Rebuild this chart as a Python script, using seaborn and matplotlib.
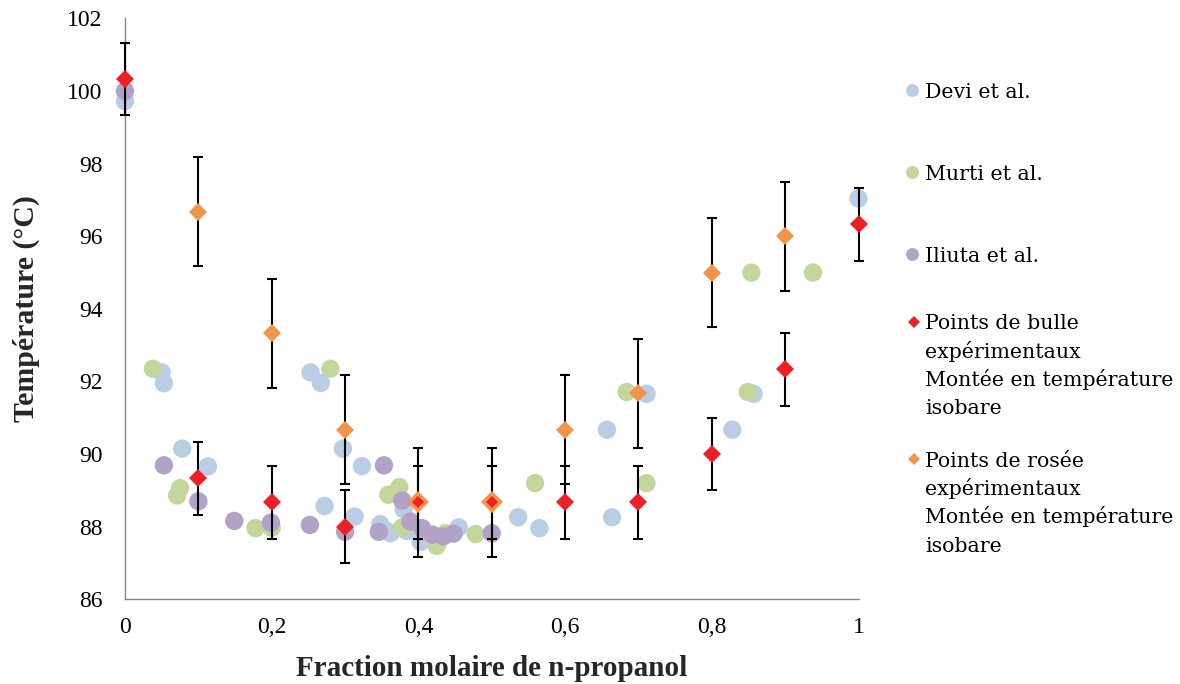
import matplotlib
matplotlib.use("Agg")
import matplotlib.pyplot as plt
from matplotlib.lines import Line2D
import seaborn as sns
import pandas as pd

# ---------------- data ----------------
devi_x = [0.0, 0.05, 0.053, 0.078, 0.113, 0.253, 0.267, 0.272, 0.297, 0.313, 0.323,
          0.348, 0.359, 0.362, 0.380, 0.384, 0.403, 0.455, 0.536, 0.565, 0.657, 0.664,
          0.711, 0.828, 0.857, 1.0]
devi_t = [99.72, 92.25, 91.95, 90.15, 89.66, 92.25, 91.96, 88.57, 90.15, 88.28, 89.67,
          88.07, 87.86, 87.82, 88.48, 87.88, 87.58, 87.98, 88.26, 87.96, 90.67, 88.26,
          91.66, 90.67, 91.66, 97.04]

murti_x = [0.038, 0.075, 0.071, 0.178, 0.200, 0.280, 0.359, 0.374, 0.378, 0.425,
           0.437, 0.478, 0.559, 0.684, 0.711, 0.849, 0.854, 0.938]
murti_t = [92.35, 89.06, 88.86, 87.96, 87.97, 92.35, 88.88, 89.09, 87.98, 87.47,
           87.82, 87.80, 89.20, 91.71, 89.20, 91.71, 95.00, 95.00]

iliuta_x = [0.0, 0.053, 0.100, 0.149, 0.199, 0.252, 0.300, 0.346, 0.353, 0.378,
            0.389, 0.405, 0.419, 0.434, 0.448, 0.500]
iliuta_t = [100.0, 89.69, 88.70, 88.16, 88.11, 88.05, 87.86, 87.86, 89.69, 88.72,
            88.14, 87.96, 87.78, 87.73, 87.81, 87.82]

bulle_x = [0.0, 0.1, 0.2, 0.3, 0.4, 0.5, 0.6, 0.7, 0.8, 0.9, 1.0]
bulle_t = [100.33, 89.33, 88.67, 88.0, 88.67, 88.67, 88.67, 88.67, 90.0, 92.33, 96.33]
bulle_err = [1.0] * len(bulle_x)

rosee_x = [0.1, 0.2, 0.3, 0.4, 0.5, 0.6, 0.7, 0.8, 0.9]
rosee_t = [96.67, 93.33, 90.67, 88.67, 88.67, 90.67, 91.67, 95.0, 96.0]
rosee_err = [1.5] * len(rosee_x)

series_names = ["Devi et al.", "Murti et al.", "Iliuta et al."]
label_bulle = "Points de bulle\nexpérimentaux\nMontée en température\nisobare"
label_rosee = "Points de rosée\nexpérimentaux\nMontée en température\nisobare"

x_ticks = [0, 0.2, 0.4, 0.6, 0.8, 1.0]
x_ticklabels = ["0", "0,2", "0,4", "0,6", "0,8", "1"]
y_ticks = [86, 88, 90, 92, 94, 96, 98, 100, 102]
y_ticklabels = ["86", "88", "90", "92", "94", "96", "98", "100", "102"]

colors = {"Devi et al.": "#B9CDE5", "Murti et al.": "#C3D69B", "Iliuta et al.": "#B3A2C7"}
c_bulle = "#EE1F25"
c_rosee = "#F29447"

# ---------------- figure ----------------
sns.set_theme(style="white")
plt.rcParams["font.family"] = ["Liberation Serif", "DejaVu Serif"]

W, H = 1180, 684
fig = plt.figure(figsize=(W / 100, H / 100), dpi=100)
ax = fig.add_axes([125 / W, 1 - 599.3 / H, 733.5 / W, 580.9 / H])

df = pd.concat([
    pd.DataFrame({"x": devi_x, "T": devi_t, "src": series_names[0]}),
    pd.DataFrame({"x": murti_x, "T": murti_t, "src": series_names[1]}),
    pd.DataFrame({"x": iliuta_x, "T": iliuta_t, "src": series_names[2]}),
], ignore_index=True)

sns.scatterplot(data=df, x="x", y="T", hue="src", palette=colors, s=175,
                linewidth=0, alpha=1, legend=False, ax=ax, zorder=2, clip_on=False)

# dew points (rosée) and bubble points (bulle) error bars
ax.errorbar(rosee_x, rosee_t, yerr=rosee_err, fmt="none", ecolor="black",
            elinewidth=1.5, capsize=3.8, capthick=1.5, zorder=3, clip_on=False)
ax.errorbar(bulle_x, bulle_t, yerr=bulle_err, fmt="none", ecolor="black",
            elinewidth=1.5, capsize=3.8, capthick=1.5, zorder=3, clip_on=False)

# larger dew markers where dew and bubble coincide
both = [(x, t) for x, t in zip(rosee_x, rosee_t)
        if any(abs(x - bx) < 1e-9 and abs(t - bt) < 1e-6 for bx, bt in zip(bulle_x, bulle_t))]
single = [(x, t) for x, t in zip(rosee_x, rosee_t) if (x, t) not in both]

ax.plot([p[0] for p in single], [p[1] for p in single], linestyle="none", marker="D",
        markersize=9, color=c_rosee, markeredgewidth=0, zorder=4, clip_on=False)
ax.plot([p[0] for p in both], [p[1] for p in both], linestyle="none", marker="D",
        markersize=11.5, color=c_rosee, markeredgewidth=0, zorder=4, clip_on=False)

b_single = [(x, t) for x, t in zip(bulle_x, bulle_t) if (x, t) not in both]
ax.plot([p[0] for p in b_single], [p[1] for p in b_single], linestyle="none", marker="D",
        markersize=9, color=c_bulle, markeredgewidth=0, zorder=5, clip_on=False)
ax.plot([p[0] for p in both], [p[1] for p in both], linestyle="none", marker="D",
        markersize=6.5, color=c_bulle, markeredgewidth=0, zorder=5, clip_on=False)

# axes styling
ax.set_xlim(0, 1)
ax.set_ylim(86, 102)
ax.set_xticks(x_ticks, x_ticklabels)
ax.set_yticks(y_ticks, y_ticklabels)
for s in ["top", "right"]:
    ax.spines[s].set_visible(False)
for s in ["left", "bottom"]:
    ax.spines[s].set_color("#868686")
    ax.spines[s].set_linewidth(1.0)
ax.tick_params(axis="both", direction="in", length=4, width=1.0, color="#868686",
               labelsize=17, labelcolor="black")
ax.tick_params(axis="x", pad=13)
ax.tick_params(axis="y", pad=16)
for lab in ax.get_xticklabels() + ax.get_yticklabels():
    lab.set_family(["Liberation Serif"])
ax.set_xlabel("Fraction molaire de n-propanol", fontsize=21, fontweight="bold",
              family=["Liberation Serif"])
ax.set_ylabel("Température (°C)", fontsize=21.5, fontweight="bold",
              family=["Liberation Serif"])
ax.xaxis.set_label_coords(0.5, -(668 - 599.3) / 580.9)
ax.yaxis.set_label_coords(-(125 - 40) / 733.5, 0.5)
ax.xaxis.label.set_va("center")

# ---------------- legend (manual) ----------------
def fx(px):
    return px / W

def fy(py):
    return 1 - py / H

line_step = 28.3  # pixels between legend text lines
# (marker, colour, size, marker x, marker y, label, baseline of first line)
leg_items = [
    ("o", colors["Devi et al."], 9.3, 911.7, 90, "Devi et al.", 98.5),
    ("o", colors["Murti et al."], 9.3, 911.7, 172.3, "Murti et al.", 180),
    ("o", colors["Iliuta et al."], 9.3, 911.7, 254, "Iliuta et al.", 261.7),
    ("D", c_bulle, 6.6, 914, 321.7, label_bulle, 329.3),
    ("D", c_rosee, 6.6, 914, 459, label_rosee, 466.7),
]
for m, c, ms, mx, my, lab, base in leg_items:
    fig.add_artist(Line2D([fx(mx)], [fy(my)], marker=m, markersize=ms, color=c,
                          markeredgewidth=0, linestyle="none", transform=fig.transFigure))
    for i, line in enumerate(lab.split("\n")):
        fig.text(fx(925), fy(base + i * line_step), line, fontsize=14.8, va="baseline",
                 ha="left", color="black", family=["DejaVu Serif"])

fig.savefig("out.png", dpi=100)
